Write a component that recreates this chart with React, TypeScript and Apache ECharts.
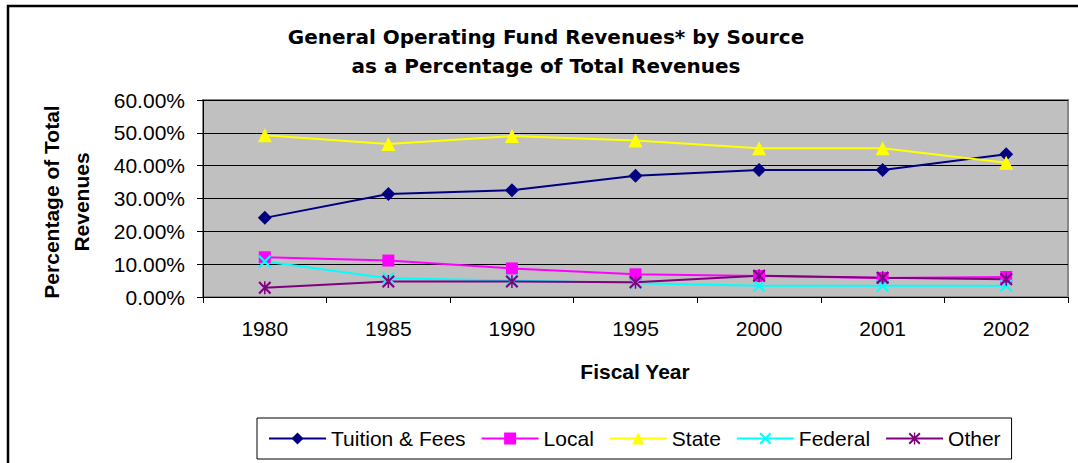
import React, { useEffect, useRef } from "react";
import * as echarts from "echarts";

const years = ["1980", "1985", "1990", "1995", "2000", "2001", "2002"];
const tuitionFees = [24.1, 31.4, 32.5, 36.9, 38.7, 38.7, 43.5];
const local = [12.1, 11.1, 8.7, 6.9, 6.4, 5.8, 6.1];
const state = [49.3, 46.6, 49.0, 47.7, 45.3, 45.3, 40.9];
const federal = [10.8, 5.7, 5.0, 4.2, 3.4, 3.4, 3.4];
const other = [2.8, 4.7, 4.7, 4.5, 6.5, 5.9, 5.4];

const titleLines = [
  "General Operating Fund Revenues* by Source",
  "as a Percentage of Total Revenues",
];
const yNameLines = ["Percentage of Total", "Revenues"];
const xName = "Fiscal Year";

const X_SYMBOL =
  "path://M0,1.4L1.4,0L12,10.6L10.6,12Z M10.6,0L12,1.4L1.4,12L0,10.6Z";
const STAR_SYMBOL =
  "path://M0,1.4L1.4,0L12,10.6L10.6,12Z M10.6,0L12,1.4L1.4,12L0,10.6Z M5.3,0L6.7,0L6.7,12L5.3,12Z";

const FONT = "Liberation Sans, Arial, sans-serif";

export default function App() {
  const ref = useRef<HTMLDivElement>(null);
  useEffect(() => {
    if (!ref.current) return;
    const chart = echarts.init(ref.current, null, { renderer: "svg" });
    const mk = (name: string, data: number[], color: string, symbol: string, size: number) => ({
      name,
      type: "line",
      data,
      symbol,
      symbolSize: size,
      lineStyle: { color, width: 2 },
      itemStyle: { color },
      z: 3,
    });
    chart.setOption({
      animation: false,
      backgroundColor: "#ffffff",
      textStyle: { fontFamily: FONT },
      grid: {
        left: 203,
        right: 10,
        top: 100,
        bottom: 166,
        show: true,
        backgroundColor: "#C0C0C0",
        borderColor: "#888888",
        borderWidth: 2,
      },
      xAxis: {
        type: "category",
        data: years,
        boundaryGap: true,
        axisLine: { lineStyle: { color: "#000", width: 1 } },
        axisTick: { show: true, length: 6, lineStyle: { color: "#000" } },
        axisLabel: { color: "#000", fontSize: 21, fontFamily: FONT, margin: 21 },
        splitLine: { show: false },
      },
      yAxis: {
        type: "value",
        min: 0,
        max: 60,
        interval: 10,
        axisLine: { show: true, lineStyle: { color: "#000", width: 1 } },
        axisTick: { show: true, length: 6, lineStyle: { color: "#000" } },
        axisLabel: {
          color: "#000",
          fontSize: 21,
          fontFamily: FONT,
          margin: 18,
          formatter: (v: number) => v.toFixed(2) + "%",
        },
        splitLine: { show: true, lineStyle: { color: "#000", width: 1 } },
      },
      legend: {
        left: 257,
        top: 418,
        orient: "horizontal",
        padding: [10, 11, 10, 11],
        borderColor: "#000",
        borderWidth: 1,
        itemWidth: 57,
        itemHeight: 15,
        itemGap: 15,
        textStyle: { color: "#000", fontSize: 21, fontFamily: FONT },
        data: ["Tuition & Fees", "Local", "State", "Federal", "Other"],
      },
      series: [
        mk("Tuition & Fees", tuitionFees, "#000080", "diamond", 14),
        mk("Local", local, "#FF00FF", "rect", 12),
        mk("State", state, "#FFFF00", "triangle", 14),
        mk("Federal", federal, "#00FFFF", X_SYMBOL, 13),
        mk("Other", other, "#800080", STAR_SYMBOL, 13),
      ],
      graphic: [
        {
          type: "rect",
          shape: { x: 8, y: 6, width: 1200, height: 600 },
          style: { fill: "none", stroke: "#000", lineWidth: 2.5 },
          silent: true,
        },
        {
          type: "text",
          x: 546,
          y: 37,
          style: {
            text: titleLines[0],
            font: "bold 20px 'DejaVu Sans', sans-serif",
            fill: "#000",
            textAlign: "center",
            textVerticalAlign: "middle",
          },
        },
        {
          type: "text",
          x: 546,
          y: 66,
          style: {
            text: titleLines[1],
            font: "bold 20px 'DejaVu Sans', sans-serif",
            fill: "#000",
            textAlign: "center",
            textVerticalAlign: "middle",
          },
        },
        {
          type: "text",
          x: 51,
          y: 202,
          rotation: Math.PI / 2,
          style: {
            text: yNameLines[0],
            font: "bold 21px 'Liberation Sans', Arial, sans-serif",
            fill: "#000",
            textAlign: "center",
            textVerticalAlign: "middle",
          },
        },
        {
          type: "text",
          x: 81,
          y: 202,
          rotation: Math.PI / 2,
          style: {
            text: yNameLines[1],
            font: "bold 21px 'Liberation Sans', Arial, sans-serif",
            fill: "#000",
            textAlign: "center",
            textVerticalAlign: "middle",
          },
        },
        {
          type: "text",
          x: 635,
          y: 371,
          style: {
            text: xName,
            font: "bold 21px 'Liberation Sans', Arial, sans-serif",
            fill: "#000",
            textAlign: "center",
            textVerticalAlign: "middle",
          },
        },
      ],
    });
    return () => chart.dispose();
  }, []);
  return (
    <div
      ref={ref}
      style={{ position: "absolute", left: 0, top: 0, width: 1078, height: 463, background: "#fff" }}
    />
  );
}
